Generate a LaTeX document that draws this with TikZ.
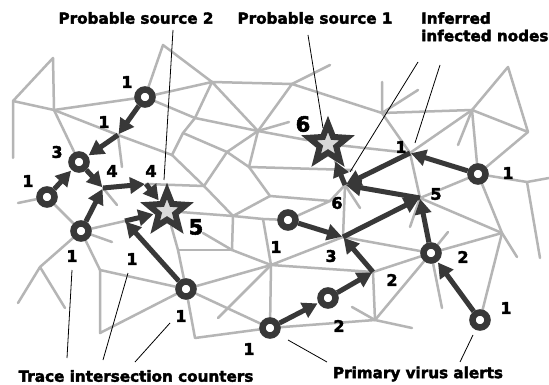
\documentclass[tikz,border=0pt]{standalone}
\usepackage{fontspec}
\setmainfont{DejaVu Sans}
\newfontfamily\heavyfont{DejaVu Sans}[BoldFeatures={FakeBold=2.5}]
\usetikzlibrary{arrows.meta,shapes.geometric}
\definecolor{meshgray}{HTML}{B5B5B5}
\definecolor{ink}{HTML}{383838}
\definecolor{starfill}{HTML}{D9D9D9}
\pgfdeclarelayer{background}
\pgfsetlayers{background,main}
\begin{document}
\begin{tikzpicture}[x=1pt,y=-1pt,
  mesh/.style={draw=meshgray,line width=2.5pt,line cap=round,line join=round},
  flow/.style={draw=ink,line width=5pt,-{Triangle[length=15pt,width=16pt]},shorten >=1pt},
  alert/.style={circle,draw=ink,fill=white,line width=6.5pt,minimum size=15pt,inner sep=0pt},
  source/.style={star,star points=5,star point ratio=2.3,draw=ink,fill=starfill,line width=6pt,minimum size=40pt,inner sep=0pt},
  count/.style={font=\heavyfont\fontsize{16}{16}\selectfont\bfseries,inner sep=0pt},
  bigcount/.style={font=\heavyfont\fontsize{21}{21}\selectfont\bfseries,inner sep=0pt},
  caption/.style={font=\heavyfont\fontsize{15.2}{17.5}\selectfont\bfseries,inner sep=0pt},
  leader/.style={draw=black,line width=0.8pt}
]
\useasboundingbox (0,0) rectangle (549,385);

% ---- junctions of the network ----
\coordinate (n1) at (13,158);  \coordinate (n2) at (13,101);
\coordinate (n3) at (53,58);   \coordinate (n4) at (54,110);
\coordinate (n5) at (163,45);  \coordinate (n6) at (212,82);
\coordinate (n7) at (292,84);  \coordinate (n8) at (330,65);
\coordinate (n9) at (382,113); \coordinate (n10) at (382,82);
\coordinate (n11) at (418,90); \coordinate (n12) at (472,110);
\coordinate (n13) at (508,67); \coordinate (n14) at (528,132);
\coordinate (n15) at (458,145);\coordinate (n16) at (527,182);
\coordinate (n17) at (549,178);\coordinate (n18) at (540,258);
\coordinate (n19) at (502,233);\coordinate (n20) at (517,257);
\coordinate (b1) at (258,131); \coordinate (b2) at (289,122);
\coordinate (b3) at (227,152); \coordinate (b4) at (249,167);
\coordinate (b5) at (352,170); \coordinate (b6) at (270,196);
\coordinate (b7) at (204,186); \coordinate (b8) at (172,155);
\coordinate (b9) at (195,118); \coordinate (b10) at (233,216);
\coordinate (b11) at (232,250);\coordinate (b12) at (178,250);
\coordinate (b13) at (203,233);\coordinate (b14) at (271,265);
\coordinate (b16) at (330,201);\coordinate (b17) at (375,320);
\coordinate (b18) at (352,307);\coordinate (b19) at (412,328);
\coordinate (b20) at (448,232);\coordinate (b21) at (442,308);
\coordinate (b22) at (410,227);\coordinate (b23) at (360,208);
\coordinate (b25) at (263,219);\coordinate (b26) at (183,133);
\coordinate (c1) at (18,203);  \coordinate (c3) at (117,205);
\coordinate (c4) at (122,167); \coordinate (c5) at (112,242);
\coordinate (c6) at (100,270); \coordinate (c7) at (40,267);
\coordinate (c8) at (18,303);  \coordinate (c9) at (65,308);
\coordinate (c10) at (100,333);\coordinate (c13) at (195,338);
\coordinate (c15) at (218,318);
% inferred infected nodes
\coordinate (P1) at (345,185); \coordinate (P2) at (410,153);
\coordinate (P3) at (420,198); \coordinate (P4) at (343,237);
\coordinate (P5) at (373,272); \coordinate (P6) at (103,188);
\coordinate (P7) at (118,135); \coordinate (P8) at (146,184);
\coordinate (P9) at (125,221);

% ---- primary alerts and probable sources ----
\node[alert] (A) at (145,97) {};
\node[alert] (B) at (79,162) {};
\node[alert] (C) at (47,197) {};
\node[alert] (D) at (81,231) {};
\node[alert] (E) at (186,289) {};
\node[alert] (F) at (270,328) {};
\node[alert] (G) at (328,298) {};
\node[alert] (H) at (431,253) {};
\node[alert] (I) at (480,320) {};
\node[alert] (J) at (288,220) {};
\node[alert] (K) at (478,174) {};
\node[source] (S1) at (328,144) {};
\node[source] (S2) at (167,211) {};

% ---- underlying network ----
\begin{pgfonlayer}{background}
\fill[white] (0,0) rectangle (549,385);
\draw[mesh] (n1)--(n2)--(n3)--(n4)--(n2);
\draw[mesh] (n4)--(A); \draw[mesh] (n4)--(B); \draw[mesh] (n4)--(P7)--(b8);
\draw[mesh] (P7)--(c4);
\draw[mesh] (A)--(n5)--(n6)--(A); \draw[mesh] (A)--(b9)--(b1);
\draw[mesh] (n6)--(b9)--(b26)--(b8); \draw[mesh] (n6)--(n7)--(b1)--(n6);
\draw[mesh] (n7)--(n8); \draw[mesh] (n7)--(n9)--(n10); \draw[mesh] (n9)--(n11);
\draw[mesh] (n9)--(n12); \draw[mesh] (n9)--(P2);
\draw[mesh] (b1)--(b2); \draw[mesh] (b1)--(S1)--(P2);
\draw[mesh] (b26)--(b3)--(b1); \draw[mesh] (b3)--(b4)--(b1);
\draw[mesh] (b3)--(b7); \draw[mesh] (b8)--(b7); \draw[mesh] (P8)--(b7);
\draw[mesh] (b4)--(b5); \draw[mesh] (b4)--(b6)--(b16)--(P1);
\draw[mesh] (J)--(b16); \draw[mesh] (b7)--(b10)--(b6);
\draw[mesh] (S2)--(b10)--(b25)--(J);
\draw[mesh] (b10)--(b11); \draw[mesh] (b25)--(b14);
\draw[mesh] (b11)--(b12); \draw[mesh] (b11)--(b13); \draw[mesh] (b11)--(b14);
\draw[mesh] (S2)--(b12)--(E); \draw[mesh] (b14)--(E);
\draw[mesh] (b14)--(F); \draw[mesh] (b14)--(c15); \draw[mesh] (b14)--(P5);
\draw[mesh] (b14)--(P4); \draw[mesh] (P4)--(P1); \draw[mesh] (P4)--(H);
\draw[mesh] (P1)--(b23); \draw[mesh] (P1)--(S1);
\draw[mesh] (P2)--(P3)--(b22); \draw[mesh] (P3)--(K); \draw[mesh] (P3)--(n19);
\draw[mesh] (n12)--(n13)--(n14)--(n12); \draw[mesh] (n12)--(n15);
\draw[mesh] (n12)--(K); \draw[mesh] (n12)--(P2); \draw[mesh] (n14)--(K);
\draw[mesh] (K)--(n16)--(n17); \draw[mesh] (n16)--(n18);
\draw[mesh] (K)--(n19)--(n20); \draw[mesh] (n19)--(H); \draw[mesh] (n19)--(I);
\draw[mesh] (H)--(b20); \draw[mesh] (H)--(b21); \draw[mesh] (H)--(P5);
\draw[mesh] (H)--(b17); \draw[mesh] (P5)--(b17);
\draw[mesh] (b17)--(b18); \draw[mesh] (b17)--(b19); \draw[mesh] (b17)--(F);
\draw[mesh] (E)--(F); \draw[mesh] (F)--(c13)--(E);
\draw[mesh] (E)--(c10)--(c6)--(E); \draw[mesh] (c6)--(D);
\draw[mesh] (D)--(c5); \draw[mesh] (D)--(c7)--(c8); \draw[mesh] (c7)--(c9);
\draw[mesh] (D)--(P9); \draw[mesh] (C)--(D); \draw[mesh] (C)--(c1);
\draw[mesh] (P6)--(c3);
\end{pgfonlayer}

% ---- traced propagation paths ----
\draw[flow] (A)--(P7);
\draw[flow] (P7)--(B);
\draw[flow] (C)--(B);
\draw[flow] (B)--(P6);
\draw[flow] (D)--(P6);
\draw[flow] (P6)--(P8);
\draw[flow] (P8)--(S2);
\draw[flow] (P9)--(S2);
\draw[flow] (E)--(P9);
\draw[flow] (K)--(P2);
\draw[flow] (P2)--(P1);
\draw[flow] (P3)--(P1);
\draw[flow] (P1)--(S1);
\draw[flow] (J)--(P4);
\draw[flow] (P4)--(P3);
\draw[flow] (H)--(P3);
\draw[flow] (I)--(H);
\draw[flow] (P5)--(P4);
\draw[flow] (G)--(P5);
\draw[flow] (F)--(G);

% ---- trace intersection counters ----
\node[count] (kA) at (127,82) {1};
\node[count] (k7) at (104,122) {1};
\node[count] (kB) at (57,152) {3};
\node[count] (kC) at (28,181) {1};
\node[count] (k6) at (112,171) {4};
\node[count] (k8) at (151,171) {4};
\node[bigcount] (kS2) at (196,227) {5};
\node[count] (kD) at (72,256) {1};
\node[count] (k9) at (132,259) {1};
\node[count] (kE) at (181,316) {1};
\node[count] (kF) at (249,349) {1};
\node[count] (k14) at (276,247) {1};
\node[count] (kG) at (339,326) {2};
\node[count] (kP4) at (331,256) {3};
\node[count] (kP5) at (392,280) {2};
\node[count] (kH) at (463,257) {2};
\node[count] (kI) at (506,308) {1};
\node[count] (kP1) at (337,203) {6};
\node[count] (kP3) at (436,194) {5};
\node[count] (kP2) at (401,147) {1};
\node[count] (kK) at (508,173) {1};
\node[bigcount] (kS1) at (303,124) {6};

% ---- captions and leader lines ----
\node[caption] (cap2) at (136,18) {Probable source 2};
\node[caption] (cap1) at (315,18) {Probable source 1};
\node[caption,align=left,anchor=north west] (capI) at (421,12) {Inferred\\infected nodes};
\node[caption] (capT) at (136,376) {Trace intersection counters};
\node[caption] (capP) at (418,374) {Primary virus alerts};

\coordinate (l1a) at (173,30);  \coordinate (l1b) at (164,180);
\coordinate (l2a) at (308,35);  \coordinate (l2b) at (323,128);
\coordinate (l3a) at (418,62);  \coordinate (l3b) at (350,172);
\coordinate (l4a) at (440,65);  \coordinate (l4b) at (415,143);
\coordinate (l5a) at (67,358);  \coordinate (l5b) at (72,270);
\coordinate (l6a) at (103,360); \coordinate (l6b) at (128,273);
\coordinate (l7a) at (135,362); \coordinate (l7b) at (170,323);
\coordinate (l8a) at (327,362); \coordinate (l8b) at (288,340);
\coordinate (l9a) at (460,362); \coordinate (l9b) at (473,335);
\draw[leader] (l1a)--(l1b);
\draw[leader] (l2a)--(l2b);
\draw[leader] (l3a)--(l3b);
\draw[leader] (l4a)--(l4b);
\draw[leader] (l5a)--(l5b);
\draw[leader] (l6a)--(l6b);
\draw[leader] (l7a)--(l7b);
\draw[leader] (l8a)--(l8b);
\draw[leader] (l9a)--(l9b);
\end{tikzpicture}
\end{document}
